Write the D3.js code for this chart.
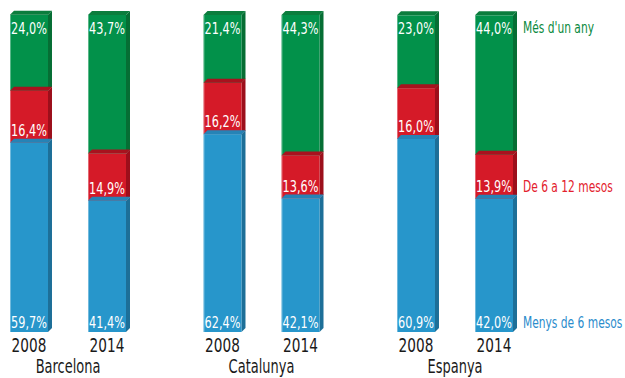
<!DOCTYPE html>
<html>
<head>
<meta charset="utf-8">
<script src="https://cdn.jsdelivr.net/npm/d3@7"></script>
<style>
  html, body { margin: 0; padding: 0; background: #fff; }
  svg { display: block; }
  text { font-family: "DejaVu Sans Condensed", "Liberation Sans Narrow", sans-serif; }
</style>
</head>
<body>
<svg id="chart" width="625" height="378"></svg>
<script>
// Duration of unemployment, share of unemployed (%)
const groups = ["Barcelona", "Catalunya", "Espanya"];
const years = ["2008", "2014"];
const seriesNames = ["Menys de 6 mesos", "De 6 a 12 mesos", "Més d'un any"];
// values per group, in year order [2008, 2014]
const menys6 = [[59.7, 41.4], [62.4, 42.1], [60.9, 42.0]];
const de6a12 = [[16.4, 14.9], [16.2, 13.6], [16.0, 13.9]];
const mesAny = [[24.0, 43.7], [21.4, 44.3], [23.0, 44.0]];

const seriesValues = [menys6, de6a12, mesAny];
const palette = [
  { front: "#2796cb", top: "#2683b6", side: "#1d6f98", text: "#2a8ccc" },
  { front: "#d51a28", top: "#a8121e", side: "#9c0f1b", text: "#e3212d" },
  { front: "#02914a", top: "#0b7d3d", side: "#066e34", text: "#0b8a40" }
];

const svg = d3.select("#chart");
const depth = 4;
const squeeze = 0.76; // horizontal compression for a condensed look

const x0 = d3.scaleBand().domain(groups).range([10, 10 + 3 * 193.5]).paddingInner(0);
const x1 = d3.scaleBand().domain(years).range([0, 116]).paddingInner(0.513).paddingOuter(0);
const y = d3.scaleLinear().domain([0, 100]).range([332, 15]);

const fmt = v => d3.format(".1f")(v).replace(".", ",") + "%";
const place = (fx, fy, k = squeeze) => d => `translate(${fx(d)},${fy(d)}) scale(${k},1)`;

// Build stacked boxes: each bar gets segments from top to bottom so lower
// segments' top faces overlap the segment above.
const boxes = [];
groups.forEach((g, gi) => {
  years.forEach((yr, yi) => {
    let base = 0;
    const segs = seriesValues.map((vals, si) => {
      const v = vals[gi][yi];
      const s = { group: g, year: yr, series: si, value: v, y0: base, y1: base + v };
      base += v;
      return s;
    });
    segs.slice().reverse().forEach(s => boxes.push(s));
  });
});

const bw = x1.bandwidth();
const gBars = svg.append("g");

boxes.forEach(s => {
  const xl = x0(s.group) + x1(s.year);
  const xr = xl + bw;
  const yt = y(s.y1);
  const yb = y(s.y0);
  const c = palette[s.series];
  const box = gBars.append("g");
  // side face
  box.append("path")
    .attr("d", `M${xr},${yt} L${xr + depth},${yt - depth} L${xr + depth},${yb - depth} L${xr},${yb} Z`)
    .attr("fill", c.side);
  // front face
  box.append("rect")
    .attr("x", xl).attr("y", yt)
    .attr("width", bw).attr("height", yb - yt)
    .attr("fill", c.front);
  // light left edge
  box.append("line")
    .attr("x1", xl + 0.5).attr("x2", xl + 0.5)
    .attr("y1", yt).attr("y2", yb)
    .attr("stroke", "#ffffff").attr("stroke-opacity", 0.35);
  // top face
  box.append("path")
    .attr("d", `M${xl},${yt} L${xl + depth},${yt - depth} L${xr + depth},${yt - depth} L${xr},${yt} Z`)
    .attr("fill", c.top);
});

// value labels
const labelY = s => {
  if (s.series === 2) return y(s.y1) + 19;
  if (s.series === 1) return y(s.y0) - 7;
  return y(s.y0) - 4;
};

svg.append("g").selectAll("text")
  .data(boxes)
  .join("text")
  .attr("transform", place(s => x0(s.group) + x1(s.year) + bw / 2, labelY))
  .attr("text-anchor", "middle")
  .attr("fill", "#ffffff")
  .attr("font-size", 16.5)
  .text(s => fmt(s.value));

// year labels
const yearLabels = [];
groups.forEach(g => years.forEach(yr => yearLabels.push({ g, yr })));
svg.append("g").selectAll("text")
  .data(yearLabels)
  .join("text")
  .attr("transform", place(d => x0(d.g) + x1(d.yr) + bw / 2, () => 352))
  .attr("text-anchor", "middle")
  .attr("fill", "#1a1a1a")
  .attr("font-size", 20)
  .text(d => d.yr);

// group labels
svg.append("g").selectAll("text")
  .data(groups)
  .join("text")
  .attr("transform", place(g => x0(g) + 58, () => 373))
  .attr("text-anchor", "middle")
  .attr("fill", "#1a1a1a")
  .attr("font-size", 19)
  .text(g => g);

// legend, aligned with the last bar's segments
const lastG = groups.length - 1, lastY = years.length - 1;
const lastSegs = boxes.filter(s => s.group === groups[lastG] && s.year === years[lastY]);
const legendX = x0(groups[lastG]) + x1(years[lastY]) + bw + depth + 6;
svg.append("g").selectAll("text")
  .data(lastSegs)
  .join("text")
  .attr("transform", place(() => legendX, s => s.series === 2 ? labelY(s) - 1 : labelY(s), 0.72))
  .attr("fill", s => palette[s.series].text)
  .attr("font-size", 16.5)
  .text(s => seriesNames[s.series]);
</script>
</body>
</html>
